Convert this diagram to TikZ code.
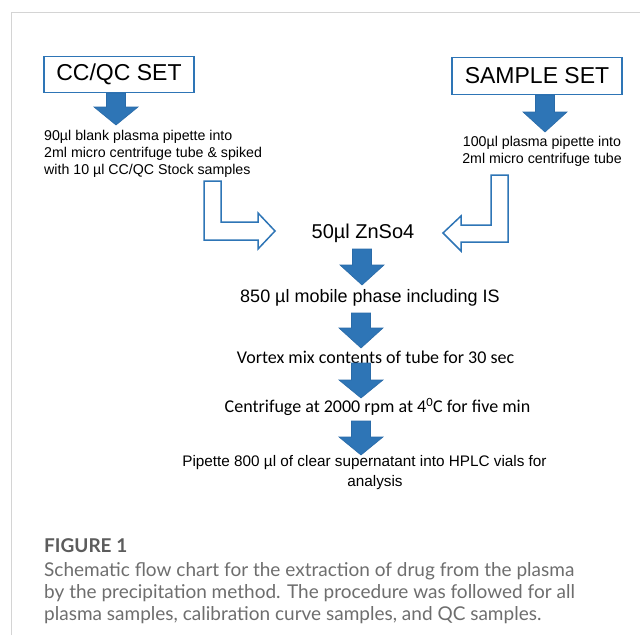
\documentclass[tikz,border=0pt]{standalone}
\usepackage{fontspec}
\setmainfont{Liberation Sans}
\newfontfamily\calfont{Carlito}
\newfontfamily\capfont{Lato}
\usetikzlibrary{calc}
\definecolor{ablue}{HTML}{2E75B6}
\definecolor{aedge}{HTML}{2A6BA8}
\definecolor{capgray}{HTML}{6E6E6E}
\definecolor{figgray}{HTML}{5C5C5C}
\definecolor{framegray}{HTML}{D4D4D4}
\newcommand{\blockarrow}[4]{%
  \filldraw[blockarr] ({#1-9.5},#2) -- ({#1+9.5},#2) -- ({#1+9.5},#3) -- ({#1+22},#3)
    -- (#1,#4) -- ({#1-22},#3) -- ({#1-9.5},#3) -- cycle;}
\begin{document}
\begin{tikzpicture}[x=1pt,y=-1pt,
  setbox/.style={draw=ablue, line width=1.6pt, fill=white, inner sep=0pt,
    font=\fontsize{23}{27}\selectfont},
  blockarr/.style={fill=ablue, draw=aedge, line width=0.6pt},
  outarr/.style={draw=ablue, line width=1.5pt, fill=white, line join=miter},
  smalltxt/.style={inner sep=0pt, font=\fontsize{14.2}{17}\selectfont},
  caltxt/.style={inner sep=0pt, font=\calfont\fontsize{18}{22}\selectfont},
  captxt/.style={inner sep=0pt, anchor=base west, text=capgray, font=\capfont\fontsize{19}{23}\selectfont}]
\useasboundingbox (0,0) rectangle (640,635);
\fill[white] (0,0) rectangle (640,635);
\draw[framegray, line width=1pt] (11,635) -- (11,12) -- (640,12);

% set boxes
\node[setbox, minimum width=150pt, minimum height=36pt] (cc) at (119,74.5) {CC/QC SET};
\node[setbox, minimum width=170pt, minimum height=37pt] (sam) at (537,76) {SAMPLE SET};

% block arrows under set boxes
\blockarrow{116}{93}{107}{125}
\blockarrow{545}{95}{112}{132}

% texts under set boxes
\node[smalltxt, anchor=west, align=left] (cctxt) at (44,154)
  {90µl blank plasma pipette into\\2ml micro centrifuge tube \& spiked\\with 10 µl CC/QC Stock samples};
\node[smalltxt, align=center] (samtxt) at (542,151.5)
  {100µl plasma pipette into\\2ml micro centrifuge tube};

% outline L arrows
\draw[outarr] (204,181) -- (221,181) -- (221,222) -- (258,222) -- (258,213) -- (275,231)
  -- (258,249) -- (258,240) -- (204,240) -- cycle;
\draw[outarr] (491,175) -- (508,175) -- (508,242) -- (461,242) -- (461,251) -- (443,233)
  -- (461,216) -- (461,225) -- (491,225) -- cycle;

% central flow
\node[inner sep=0pt, font=\fontsize{20}{24}\selectfont] (zn) at (363,233) {50µl ZnSo4};
\blockarrow{362}{249}{265}{285}
\node[inner sep=0pt, font=\fontsize{18}{22}\selectfont] (mob) at (370,298) {850 µl mobile phase including IS};
\blockarrow{361}{313}{328}{348}
\node[caltxt] (vor) at (375.5,357) {Vortex mix contents of tube for 30 sec};
\blockarrow{361}{363}{380}{398}
\node[caltxt] (cen) at (377.5,407) {Centrifuge at 2000 rpm at 4\textsuperscript{0}C for five min};
\blockarrow{361}{421}{437}{455}
\node[inner sep=0pt, font=\fontsize{15.3}{20}\selectfont] (pip) at (364.5,463)
  {Pipette 800 µl of clear supernatant into HPLC vials for};
\node[inner sep=0pt, font=\fontsize{15.3}{20}\selectfont] (ana) at (375,483) {analysis};

% caption
\node[captxt, text=figgray, font=\capfont\bfseries\fontsize{19}{23}\selectfont] (fig) at (44,552) {FIGURE 1};
\node[captxt] (c1) at (44,576) {Schematic flow chart for the extraction of drug from the plasma};
\node[captxt] (c2) at (44,598) {by the precipitation method. The procedure was followed for all};
\node[captxt] (c3) at (44,620) {plasma samples, calibration curve samples, and QC samples.};
\end{tikzpicture}
\end{document}
